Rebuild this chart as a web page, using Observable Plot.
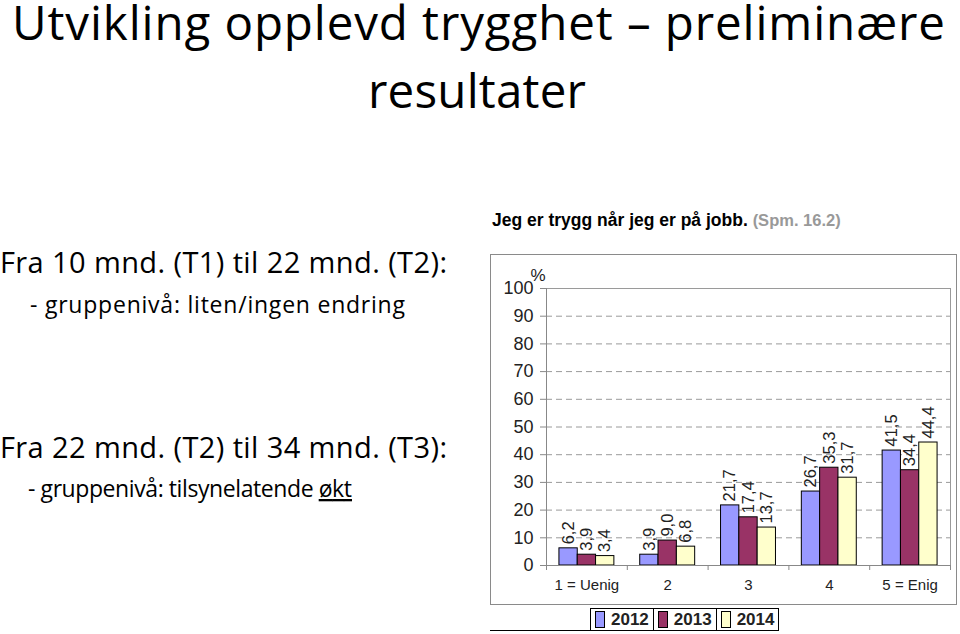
<!DOCTYPE html>
<html>
<head>
<meta charset="utf-8">
<script src="https://cdn.jsdelivr.net/npm/d3@7"></script>
<script src="https://cdn.jsdelivr.net/npm/@observablehq/plot@0.6"></script>
<style>
  html, body { margin: 0; padding: 0; background: #fff; }
  #page { position: relative; width: 960px; height: 634px; overflow: hidden; }
  #slide { position: absolute; left: 0; top: 0; }
  #chartTitle { position: absolute; left: 492px; top: 210px; font: bold 17.5px "Liberation Sans", Arial, sans-serif; color: #000; white-space: nowrap; }
  #chartTitle span { color: #999; font-size: 16.5px; }
  #frame { position: absolute; left: 490px; top: 254px; width: 467px; height: 351px; border: 1px solid #8a8a8a; box-sizing: border-box; }
  #chart { position: absolute; left: 491px; top: 255px; }
  #legend { position: absolute; left: 590px; top: 608px; height: 23px; display: flex; border: 1px solid #000; box-sizing: border-box; }
  #legend .item { display: flex; align-items: center; padding: 0 4px 0 4px; border-right: 1px solid #000; font: bold 17px "Liberation Sans", Arial, sans-serif; color: #222; }
  #legend .item:last-child { border-right: none; }
  #legend .sw { width: 8px; height: 15px; border: 1px solid #000; margin-right: 6px; }
  #underline { position: absolute; left: 490px; top: 630px; width: 288px; height: 1px; background: #000; }
</style>
</head>
<body>
<div id="page">
  <svg id="slide" width="960" height="634"></svg>
  <div id="chartTitle"></div>
  <div id="frame"></div>
  <div id="chart"></div>
  <div id="underline"></div>
  <div id="legend"></div>
</div>
<script>
// ---- Data ----
const categories = ["1 = Uenig", "2", "3", "4", "5 = Enig"];
const years = ["2012", "2013", "2014"];
const colors = ["#9999FF", "#993366", "#FFFFCC"];
const values2012 = [6.2, 3.9, 21.7, 26.7, 41.5];
const values2013 = [3.9, 9.0, 17.4, 35.3, 34.4];
const values2014 = [3.4, 6.8, 13.7, 31.7, 44.4];
const yTicks = [0, 10, 20, 30, 40, 50, 60, 70, 80, 90, 100];

const titleLines = ["Utvikling opplevd trygghet \u2013 preliminære", "resultater"];
const chartTitleMain = "Jeg er trygg når jeg er på jobb.";
const chartTitleNote = "(Spm. 16.2)";

// ---- Slide texts ----
const ns = "http://www.w3.org/2000/svg";
const slide = document.getElementById("slide");
function addText(str, x, y, size, len, anchor) {
  const t = document.createElementNS(ns, "text");
  t.setAttribute("x", x); t.setAttribute("y", y);
  t.setAttribute("font-family", "'Open Sans', Lato, sans-serif");
  t.setAttribute("font-size", size);
  t.setAttribute("fill", "#000");
  if (anchor) t.setAttribute("text-anchor", anchor);
  t.textContent = str;
  slide.appendChild(t);
  if (len) { t.setAttribute("textLength", len); t.setAttribute("lengthAdjust", "spacing"); }
  return t;
}
addText(titleLines[0], 478.5, 40, 47.5, 933, "middle");
addText(titleLines[1], 477, 108, 47.5, 218, "middle");
addText("Fra 10 mnd. (T1) til 22 mnd. (T2):", 0, 273, 29, 447);
addText("- gruppenivå: liten/ingen endring", 30, 313, 23, 375);
addText("Fra 22 mnd. (T2) til 34 mnd. (T3):", 0, 458, 29, 447);
const last = addText("- gruppenivå: tilsynelatende ", 28, 497, 23);
const ts = document.createElementNS(ns, "tspan");
ts.setAttribute("text-decoration", "underline");
ts.textContent = "økt";
last.appendChild(ts);
last.setAttribute("textLength", 324); last.setAttribute("lengthAdjust", "spacing");

document.getElementById("chartTitle").innerHTML = chartTitleMain + " <span>" + chartTitleNote + "</span>";

// ---- Chart data rows ----
const series = [values2012, values2013, values2014];
const groupWidth = 0.68;
const barW = groupWidth / years.length;
const rows = [];
categories.forEach((c, i) => {
  years.forEach((yr, j) => {
    const x1 = (i + 1) - groupWidth / 2 + j * barW;
    rows.push({cat: c, year: yr, value: series[j][i], x1, x2: x1 + barW, xc: x1 + barW / 2});
  });
});
const fmt = v => v.toFixed(1).replace(".", ",");
const catIdx = categories.map((c, i) => i + 1);
const boundaries = d3.range(categories.length + 1).map(i => i + 0.5);
const grid = yTicks.filter(v => v > 0 && v < 100);

const chart = Plot.plot({
  width: 465,
  height: 349,
  marginLeft: 55,
  marginTop: 33,
  marginRight: 6,
  marginBottom: 39,
  style: {fontFamily: "'Liberation Sans', Arial, sans-serif", background: "transparent", overflow: "visible"},
  x: {type: "linear", domain: [0.5, categories.length + 0.5], axis: null},
  y: {domain: [0, 100], axis: null},
  color: {domain: years, range: colors},
  marks: [
    Plot.ruleY(grid, {stroke: "#9a9a9a", strokeDasharray: "6,4", strokeWidth: 1}),
    Plot.ruleY([100], {stroke: "#9a9a9a", strokeWidth: 1}),
    Plot.ruleX([categories.length + 0.5], {stroke: "#9a9a9a", strokeWidth: 1}),
    Plot.rectY(rows, {x1: "x1", x2: "x2", y: "value", fill: "year", stroke: "#000", strokeWidth: 1}),
    Plot.text(rows, {x: "xc", y: "value", text: d => fmt(d.value), rotate: -90, textAnchor: "start", lineAnchor: "middle", dy: -4, fontSize: 16.5, fill: "#222"}),
    Plot.ruleX([0.5], {stroke: "#888", strokeWidth: 1}),
    Plot.ruleY([0], {stroke: "#888", strokeWidth: 1}),
    Plot.axisY({ticks: yTicks, label: null, tickSize: 6, tickPadding: 7, stroke: "#888", fontSize: 18, fill: "#222", tickFormat: d => String(d)}),
    Plot.axisX({ticks: boundaries, label: null, tickSize: 5, stroke: "#888", tickFormat: () => ""}),
    Plot.axisX({ticks: catIdx, label: null, tickSize: 0, tickPadding: 14, fontSize: 15, fill: "#222", tickFormat: d => categories[d - 1]}),
    Plot.text(["%"], {frameAnchor: "top-left", dx: -16, dy: -20, fontSize: 17, fill: "#222"})
  ]
});
document.getElementById("chart").appendChild(chart);

// ---- Legend ----
const legend = document.getElementById("legend");
years.forEach((yr, j) => {
  const item = document.createElement("div");
  item.className = "item";
  const sw = document.createElement("div");
  sw.className = "sw";
  sw.style.background = colors[j];
  item.appendChild(sw);
  item.appendChild(document.createTextNode(yr));
  legend.appendChild(item);
});
</script>
</body>
</html>
